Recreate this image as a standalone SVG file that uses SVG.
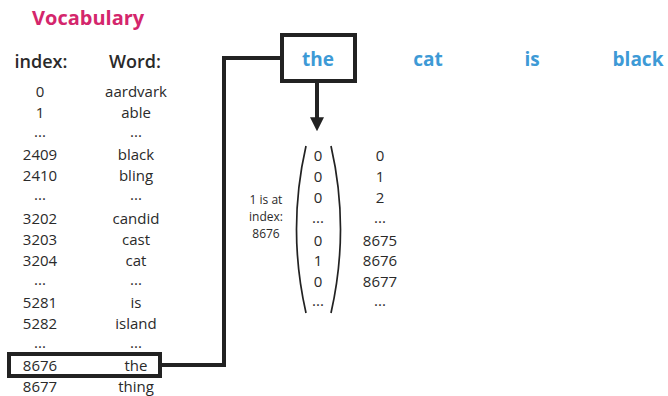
<svg xmlns="http://www.w3.org/2000/svg" width="668" height="396" viewBox="0 0 668 396">
<defs>
<style>
text{font-family:"Open Sans","Liberation Sans",sans-serif;fill:#2a2a2a;text-anchor:middle}
.t{font-size:15px}
.h{font-size:18px;font-weight:600}
.v{font-size:20px;font-weight:700;fill:#d4266c;text-anchor:start}
.w{font-size:19px;font-weight:700;fill:#3d9ad6}
.s{font-size:12px}
.box{fill:none;stroke:#222;stroke-width:4}
.ln{fill:none;stroke:#222;stroke-width:4}
.pr{fill:none;stroke:#222;stroke-width:1.7}
</style>
<marker id="ah" viewBox="0 0 10 10" refX="2" refY="5" markerWidth="3.5" markerHeight="3.5" markerUnits="strokeWidth" orient="auto">
<path d="M0,0 L10,5 L0,10 z" fill="#222"/>
</marker>
</defs>

<g id="title"><text class="v" x="32" y="25">Vocabulary</text></g>

<g id="vocab-table">
<text class="h" x="41" y="68">index:</text>
<text class="h" x="135" y="68">Word:</text>
<text class="t" x="40" y="97">0</text><text class="t" x="136" y="97">aardvark</text>
<text class="t" x="40" y="118">1</text><text class="t" x="136" y="118">able</text>
<text class="t" x="40" y="137">...</text><text class="t" x="136" y="137">...</text>
<text class="t" x="40" y="160">2409</text><text class="t" x="136" y="160">black</text>
<text class="t" x="40" y="181">2410</text><text class="t" x="136" y="181">bling</text>
<text class="t" x="40" y="200">...</text><text class="t" x="136" y="200">...</text>
<text class="t" x="40" y="224">3202</text><text class="t" x="136" y="224">candid</text>
<text class="t" x="40" y="245">3203</text><text class="t" x="136" y="245">cast</text>
<text class="t" x="40" y="266">3204</text><text class="t" x="136" y="266">cat</text>
<text class="t" x="40" y="285">...</text><text class="t" x="136" y="285">...</text>
<text class="t" x="40" y="308">5281</text><text class="t" x="136" y="308">is</text>
<text class="t" x="40" y="329">5282</text><text class="t" x="136" y="329">island</text>
<text class="t" x="40" y="348">...</text><text class="t" x="136" y="348">...</text>
<text class="t" x="40" y="371">8676</text><text class="t" x="136" y="371">the</text>
<text class="t" x="40" y="392">8677</text><text class="t" x="136" y="392">thing</text>
</g>

<g id="row-highlight"><rect class="box" x="9" y="354" width="151" height="22"/></g>

<g id="sentence">
<g id="word-the"><rect class="box" x="282" y="35" width="73" height="46"/><text class="w" x="318" y="66">the</text></g>
<g id="word-cat"><text class="w" x="428" y="66">cat</text></g>
<g id="word-is"><text class="w" x="532" y="66">is</text></g>
<g id="word-black"><text class="w" x="638" y="66">black</text></g>
</g>

<g id="connectors">
<polyline class="ln" points="160,365 224,365 224,58 282,58"/>
<line class="ln" x1="317" y1="81" x2="317" y2="120" marker-end="url(#ah)"/>
</g>

<g id="one-hot">
<path class="pr" d="M306,146 Q287,229 306,313"/>
<path class="pr" d="M331,146 Q350,229 331,313"/>
<text class="t" x="318" y="161">0</text>
<text class="t" x="318" y="182">0</text>
<text class="t" x="318" y="203">0</text>
<text class="t" x="318" y="223">...</text>
<text class="t" x="318" y="246">0</text>
<text class="t" x="318" y="266">1</text>
<text class="t" x="318" y="287">0</text>
<text class="t" x="318" y="306">...</text>
<text class="t" x="380" y="161">0</text>
<text class="t" x="380" y="182">1</text>
<text class="t" x="380" y="203">2</text>
<text class="t" x="380" y="223">...</text>
<text class="t" x="380" y="246">8675</text>
<text class="t" x="380" y="266">8676</text>
<text class="t" x="380" y="287">8677</text>
<text class="t" x="380" y="306">...</text>
</g>

<g id="note">
<text class="s" x="266" y="204">1 is at</text>
<text class="s" x="266" y="221">index:</text>
<text class="s" x="266" y="238">8676</text>
</g>
</svg>
